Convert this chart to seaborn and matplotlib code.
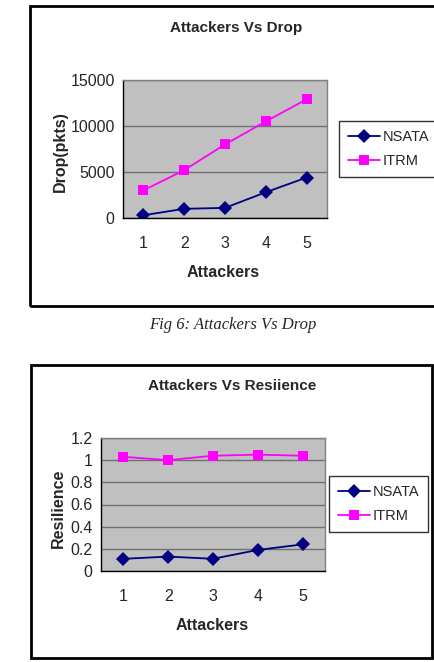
import matplotlib
matplotlib.use("Agg")
import matplotlib.pyplot as plt
import seaborn as sns
import pandas as pd
import numpy as np
from matplotlib.patches import Rectangle
from matplotlib.lines import Line2D

attackers = [1, 2, 3, 4, 5]
drop_nsata = [300, 1000, 1100, 2800, 4400]
drop_itrm = [3000, 5200, 8000, 10500, 12900]
res_nsata = [0.11, 0.13, 0.11, 0.19, 0.24]
res_itrm = [1.03, 1.00, 1.04, 1.05, 1.04]
series = ["NSATA", "ITRM"]
drop_ticks = [0, 5000, 10000, 15000]
res_ticks = [0, 0.2, 0.4, 0.6, 0.8, 1, 1.2]
res_tick_labels = ["0", "0.2", "0.4", "0.6", "0.8", "1", "1.2"]

sns.set_style("white")
plt.rcParams['font.family'] = ['Liberation Sans', 'DejaVu Sans']

palette = {"NSATA": "#000080", "ITRM": "#FF00FF"}
markers = {"NSATA": "D", "ITRM": "s"}

fig = plt.figure(figsize=(4.34, 6.62), dpi=100)
W, H = 434.0, 662.0

def fx(px):
    return px / W

def fy(py):
    return 1 - py / H

# borders
fig.patches.append(Rectangle((fx(30), fy(306)), fx(440) - fx(30), fy(6) - fy(306),
                             transform=fig.transFigure, fill=False, lw=2, ec="black"))
fig.patches.append(Rectangle((fx(31), fy(658)), fx(432) - fx(31), fy(365) - fy(658),
                             transform=fig.transFigure, fill=False, lw=2, ec="black"))


def make_panel(rect, nsata, itrm, yticks, ylabels, ylim, title, ylabel, title_xy, ylab_xy, xlab_xy, leg_xy):
    ax = fig.add_axes(rect)
    df = pd.DataFrame({
        "Attackers": attackers * 2,
        "value": list(nsata) + list(itrm),
        "series": [series[0]] * 5 + [series[1]] * 5,
    })
    sns.lineplot(data=df, x="Attackers", y="value", hue="series", style="series",
                 palette=palette, markers=markers, dashes=False, markersize=7,
                 markeredgewidth=0, linewidth=1.3, ax=ax, legend=False)
    ax.set_facecolor("#C0C0C0")
    ax.set_xlim(0.5, 5.5)
    ax.set_ylim(*ylim)
    ax.set_yticks(yticks)
    ax.set_yticklabels(ylabels)
    ax.set_xticks(attackers)
    ax.set_xticklabels([str(a) for a in attackers])
    ax.set_xticks(np.arange(0.5, 6.0, 1.0), minor=True)
    ax.tick_params(axis="x", which="major", length=0, pad=13, labelsize=11.5)
    ax.tick_params(axis="x", which="minor", length=5, width=1, color="black", direction="out")
    ax.tick_params(axis="y", which="major", length=4, width=1, color="black", direction="out",
                   labelsize=11.5, pad=2)
    ax.grid(axis="y", color="#707070", lw=1)
    ax.grid(axis="x", visible=False)
    ax.set_axisbelow(True)
    for s in ["top", "right"]:
        ax.spines[s].set_color("#808080")
        ax.spines[s].set_linewidth(1)
    for s in ["left", "bottom"]:
        ax.spines[s].set_color("black")
        ax.spines[s].set_linewidth(1)
    ax.set_xlabel("")
    ax.set_ylabel("")
    fig.text(fx(title_xy[0]), fy(title_xy[1]), title, ha="center", va="center",
             fontsize=11, fontweight="bold")
    fig.text(fx(ylab_xy[0]), fy(ylab_xy[1]), ylabel, ha="center", va="center",
             fontsize=11.5, fontweight="bold", rotation=90)
    fig.text(fx(xlab_xy[0]), fy(xlab_xy[1]), "Attackers", ha="center", va="center",
             fontsize=11.5, fontweight="bold")
    handles = [Line2D([], [], color=palette[s], marker=markers[s], markersize=7,
                      markeredgewidth=0, lw=1.3) for s in series]
    leg = fig.legend(handles, series, loc="upper left",
                     bbox_to_anchor=(fx(leg_xy[0]), fy(leg_xy[1])),
                     bbox_transform=fig.transFigure, frameon=True, fancybox=False,
                     edgecolor="black", fontsize=10.5, handlelength=2.2, handletextpad=0.2,
                     borderpad=0.6, labelspacing=0.7, borderaxespad=0)
    leg.get_frame().set_linewidth(1)
    return ax


make_panel([fx(123), fy(218), fx(327) - fx(123), fy(80) - fy(218)],
           drop_nsata, drop_itrm, drop_ticks, [str(t) for t in drop_ticks], (0, 15000),
           "Attackers Vs Drop", "Drop(pkts)", (236, 28), (60, 152), (223, 273),
           (339, 121))

make_panel([fx(101), fy(571), fx(325) - fx(101), fy(438) - fy(571)],
           res_nsata, res_itrm, res_ticks, res_tick_labels, (0, 1.2),
           "Attackers Vs Resiience", "Resilience", (232, 386), (58, 508), (212, 626),
           (329, 476))

fig.text(fx(233), fy(325), "Fig 6: Attackers Vs Drop", ha="center", va="center",
         fontsize=12, style="italic", family=["Liberation Serif", "DejaVu Serif"])

fig.savefig("out.png", dpi=100)
